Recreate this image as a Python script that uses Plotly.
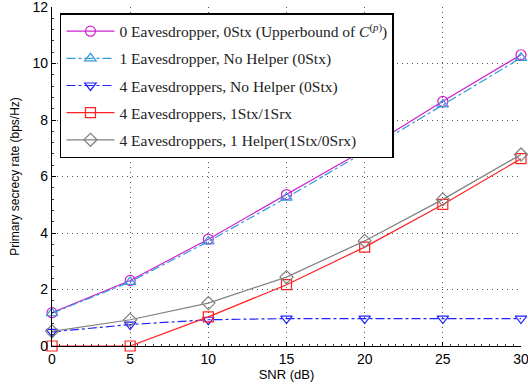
import plotly.graph_objects as go

snr = [0, 5, 10, 15, 20, 25, 30]
upper_0eve = [1.18, 2.32, 3.78, 5.36, 6.95, 8.66, 10.31]
one_eve_nohelper = [1.16, 2.27, 3.70, 5.25, 6.87, 8.55, 10.20]
four_eve_nohelper = [0.50, 0.76, 0.93, 0.97, 0.97, 0.97, 0.97]
four_eve_1stx1srx = [0.0, 0.0, 1.03, 2.17, 3.50, 5.01, 6.63]
four_eve_1helper = [0.52, 0.93, 1.52, 2.44, 3.72, 5.19, 6.78]

names = [
    "0 Eavesdropper, 0Stx (Upperbound of <i>C</i><sup>(<i>p</i>)</sup>)",
    "1 Eavesdropper, No Helper (0Stx)",
    "4 Eavesdroppers, No Helper (0Stx)",
    "4 Eavesdroppers, 1Stx/1Srx",
    "4 Eavesdroppers, 1 Helper(1Stx/0Srx)",
]
series = [upper_0eve, one_eve_nohelper, four_eve_nohelper, four_eve_1stx1srx, four_eve_1helper]
colors = ["#cc22cc", "#3399dd", "#2222ff", "#ff2222", "#808080"]
dashes = ["solid", "dashdot", "dashdot", "solid", "solid"]
symbols = ["circle-open", "triangle-up-open", "triangle-down-open", "square-open", "diamond-open"]

fig = go.Figure()
for i, (nm, ys, c, d, s) in enumerate(zip(names, series, colors, dashes, symbols)):
    fig.add_trace(go.Scatter(
        x=snr, y=ys, name=nm, mode="lines+markers",
        line=dict(color=c, width=1.2, dash=d),
        marker=dict(symbol=s, size=10, color=c, line=dict(color=c, width=1.2)),
        legendgroup=f"g{i}",
        cliponaxis=False,
    ))

axis_font = dict(family="Liberation Sans, Arial, sans-serif", size=14, color="black")
fig.update_layout(
    width=528, height=388,
    margin=dict(l=52, r=7, t=7, b=42),
    plot_bgcolor="white", paper_bgcolor="white",
    showlegend=True,
    legend=dict(
        x=0.017, y=0.982, xanchor="left", yanchor="top",
        bgcolor="white", bordercolor="black", borderwidth=1.5,
        font=dict(family="Liberation Serif, Times New Roman, serif", size=15.5, color="#222"),
        tracegroupgap=4,
        itemwidth=48,
    ),
    xaxis=dict(
        range=[0, 30], tickvals=[0, 5, 10, 15, 20, 25, 30],
        showgrid=True, gridcolor="#555", griddash="1px,4px", gridwidth=1,
        showline=True, linecolor="black", linewidth=1.2,
        ticks="inside", ticklen=4, tickcolor="black",
        minor=dict(dtick=0.5, ticks="inside", ticklen=2, tickcolor="#333", showgrid=False),
        tickfont=axis_font, zeroline=False, ticklabeloverflow="allow", automargin=False,
        title=dict(text="SNR (dB)", font=dict(family="Liberation Sans, Arial, sans-serif", size=13, color="black"), standoff=2),
    ),
    yaxis=dict(
        range=[0, 12], tickvals=[0, 2, 4, 6, 8, 10, 12],
        showgrid=True, gridcolor="#555", griddash="1px,4px", gridwidth=1,
        showline=True, linecolor="black", linewidth=1.2,
        ticks="inside", ticklen=4, tickcolor="black",
        minor=dict(dtick=0.4, ticks="inside", ticklen=2, tickcolor="#333", showgrid=False),
        tickfont=axis_font, zeroline=False, ticklabeloverflow="allow", automargin=False,
        title=dict(text="Primary secrecy rate (bps/Hz)", font=dict(family="Liberation Sans, Arial, sans-serif", size=12, color="black"), standoff=10),
    ),
)

fig.write_html("out.html")
